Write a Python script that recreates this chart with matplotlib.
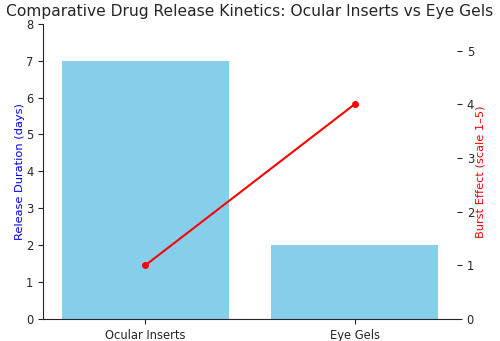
import matplotlib
matplotlib.use("Agg")
import matplotlib.pyplot as plt

categories = ["Ocular Inserts", "Eye Gels"]
release_duration = [7, 2]
burst_effect = [1, 4]

fig, ax1 = plt.subplots(figsize=(5.0, 3.41), dpi=100)
ax1.bar(categories, release_duration, color="skyblue", width=0.8)
ax1.set_ylim(0, 8)
ax1.set_ylabel("Release Duration (days)", color="blue", fontsize=8.2, labelpad=0.5)
ax1.tick_params(labelsize=8.3, colors="#262626")
for s in ["top", "right"]:
    ax1.spines[s].set_visible(False)
ax1.spines["left"].set_color("#262626")
ax1.spines["bottom"].set_color("#262626")

ax2 = ax1.twinx()
ax2.plot(categories, burst_effect, color="red", marker="o", markersize=4, linewidth=1.5)
ax2.set_ylim(0, 5.5)
ax2.set_yticks([0, 1, 2, 3, 4, 5])
ax2.set_ylabel("Burst Effect (scale 1\u20135)", color="red", fontsize=8.2, labelpad=1)
ax2.tick_params(labelsize=8.3, colors="#262626")
for s in ["top", "right", "left", "bottom"]:
    ax2.spines[s].set_visible(False)

ax1.set_title("Comparative Drug Release Kinetics: Ocular Inserts vs Eye Gels", fontsize=11.2, color="#262626")
fig.subplots_adjust(left=0.086, right=0.914, bottom=0.065, top=0.93)
fig.savefig("out.png", dpi=100)
